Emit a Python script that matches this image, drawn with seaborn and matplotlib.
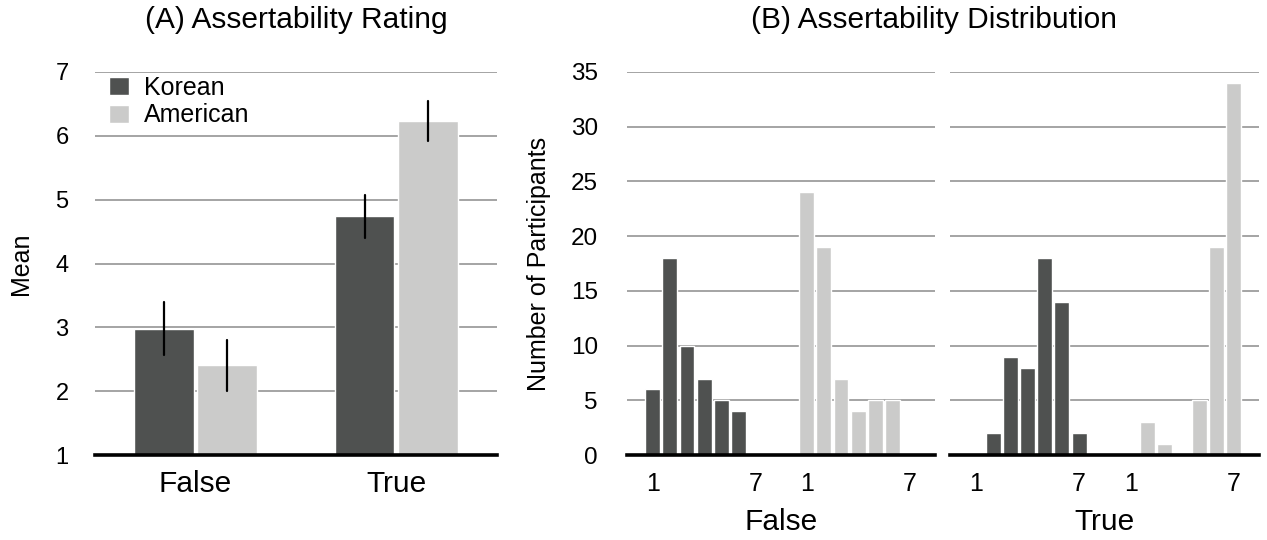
import numpy as np
import pandas as pd
import matplotlib
matplotlib.use("Agg")
import matplotlib.pyplot as plt
import seaborn as sns

# Rating scale and counts per rating
ratings = [1, 2, 3, 4, 5, 6, 7]
groups = ["Korean", "American"]
conditions = ["False", "True"]

korean_false = [6, 18, 10, 7, 5, 4, 0]
american_false = [24, 19, 7, 4, 5, 5, 0]
korean_true = [0, 2, 9, 8, 18, 14, 2]
american_true = [0, 3, 1, 0, 5, 19, 34]

counts = {
    ("False", "Korean"): korean_false,
    ("False", "American"): american_false,
    ("True", "Korean"): korean_true,
    ("True", "American"): american_true,
}

DARK = "#4f5150"
LIGHT = "#cbcbca"
GRID = "#8c8c8c"
palette = {"Korean": DARK, "American": LIGHT}

sns.set_theme(style="white")
plt.rcParams["font.family"] = ["Liberation Sans", "DejaVu Sans"]
plt.rcParams["text.color"] = "black"
plt.rcParams["axes.labelcolor"] = "black"
plt.rcParams["xtick.color"] = "black"
plt.rcParams["ytick.color"] = "black"

# individual responses rebuilt from the counts, for panel A means / error bars
rows = []
for (cond, grp), c in counts.items():
    for r, n in zip(ratings, c):
        rows += [{"condition": cond, "group": grp, "rating": r}] * n
resp = pd.DataFrame(rows)

# histogram table for panel B: American bars shifted right of Korean ones
offset = {"Korean": 0, "American": 9}
hist = pd.DataFrame([
    {"condition": cond, "group": grp, "pos": r + offset[grp], "count": n}
    for (cond, grp), c in counts.items() for r, n in zip(ratings, c)
])

fig = plt.figure(figsize=(12.67, 5.4), dpi=100)
axA = fig.add_axes([0.075, 0.157, 0.317, 0.710])
axB1 = fig.add_axes([0.495, 0.157, 0.243, 0.710])
axB2 = fig.add_axes([0.750, 0.157, 0.244, 0.710])


def style_axis(ax):
    ax.grid(axis="y", color=GRID, linewidth=1.1)
    ax.set_axisbelow(True)
    for s in ["left", "right", "top"]:
        ax.spines[s].set_visible(False)
    ax.spines["bottom"].set_color("black")
    ax.spines["bottom"].set_linewidth(2.6)
    ax.spines["bottom"].set_zorder(5)
    ax.tick_params(axis="both", length=0)


# (A) mean rating
sns.barplot(data=resp, x="condition", y="rating", hue="group", order=conditions,
            hue_order=groups, palette=palette, errorbar=("se", 2), width=0.63,
            gap=0.06, err_kws={"color": "black", "linewidth": 1.6},
            saturation=1, ax=axA)
style_axis(axA)
axA.set_ylim(1, 7)
axA.set_xlim(-0.5, 1.5)
axA.set_yticks(range(1, 8))
axA.tick_params(axis="y", labelsize=17, pad=19)
axA.tick_params(axis="x", labelsize=21.5, pad=11)
axA.set_xlabel("")
axA.set_ylabel("Mean", fontsize=18, labelpad=16)
axA.legend(loc="upper left", frameon=False, fontsize=18, handlelength=0.8,
           handleheight=0.75, handletextpad=0.6, labelspacing=0.15,
           borderaxespad=0.0, borderpad=0.0, bbox_to_anchor=(0.035, 0.99))

# (B) distribution of ratings
for ax, cond in zip([axB1, axB2], conditions):
    sub = hist[hist["condition"] == cond]
    sns.barplot(data=sub, x="pos", y="count", hue="group", hue_order=groups,
                palette=palette, native_scale=True, dodge=False, width=0.87,
                saturation=1, legend=False, ax=ax)
    style_axis(ax)
    ax.set_ylim(0, 35)
    ax.set_xlim(-0.5, 17.5)
    ax.set_yticks(range(0, 36, 5))
    ends = [ratings[0], ratings[-1]]
    ax.set_xticks([e + offset[g] for g in groups for e in ends])
    ax.set_xticklabels([str(e) for g in groups for e in ends])
    ax.tick_params(axis="x", labelsize=18, pad=12)
    ax.set_xlabel(cond, fontsize=21.5, labelpad=9)
    ax.set_ylabel("")

axB1.tick_params(axis="y", labelsize=17.5, pad=21)
axB1.set_ylabel("Number of Participants", fontsize=18, labelpad=14)
axB2.set_yticklabels([])

fig.text(296 / 1267, 0.963, "(A) Assertability Rating", fontsize=21.5,
         ha="center", va="center")
fig.text(934 / 1267, 0.963, "(B) Assertability Distribution", fontsize=21.5,
         ha="center", va="center")

fig.savefig("out.png", dpi=100)
